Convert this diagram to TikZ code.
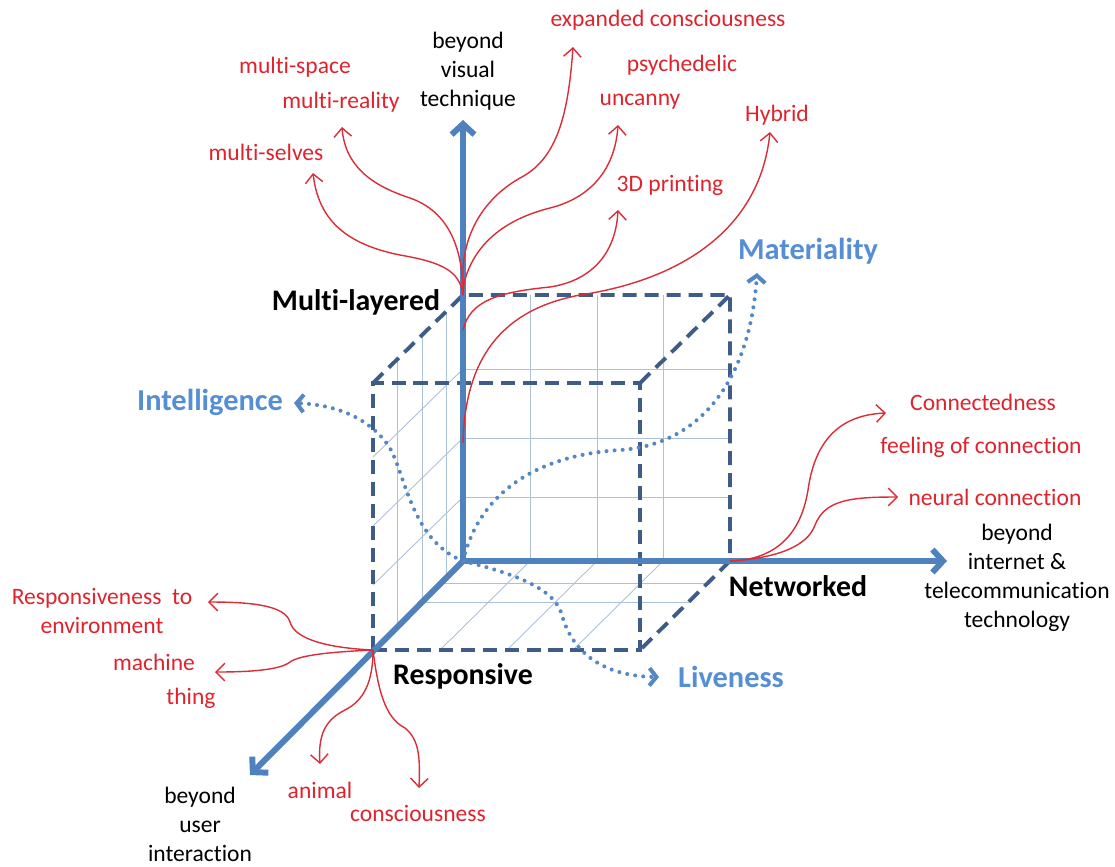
\documentclass[tikz,border=0pt]{standalone}
\usepackage{fontspec}
\setmainfont{Carlito}[Ligatures=NoCommon]
\usetikzlibrary{arrows.meta}
\definecolor{axisblue}{RGB}{79,129,189}
\definecolor{dashblue}{RGB}{62,92,135}
\definecolor{gridblue}{RGB}{172,192,218}
\definecolor{dotblue}{RGB}{84,135,195}
\definecolor{lblblue}{RGB}{85,142,213}
\definecolor{redline}{RGB}{218,45,55}
\definecolor{redtext}{RGB}{222,35,45}

\begin{document}
\begin{tikzpicture}[x=0.02cm,y=-0.02cm,
  axis/.style={axisblue,line width=3.4pt,-{Straight Barb[length=6pt,width=13pt]}},
  cubeedge/.style={dashblue,line width=2.2pt,dash pattern=on 8pt off 4.5pt},
  gridline/.style={gridblue,line width=0.5pt},
  dotpath/.style={dotblue,line width=2.3pt,line cap=round,dash pattern=on 0pt off 4.6pt,
    -{Straight Barb[length=4pt,width=10pt]}},
  twig/.style={redline,line width=0.8pt,-{Straight Barb[length=5pt,width=10pt]}},
  redlbl/.style={text=redtext,inner sep=0pt,align=center,font=\fontsize{13.4}{16}\selectfont},
  blklbl/.style={text=black,inner sep=0pt,align=center,font=\fontsize{13.4}{16.5}\selectfont},
  cornerlbl/.style={text=black,inner sep=0pt,font=\fontsize{17}{20}\selectfont\bfseries},
  bluelbl/.style={text=lblblue,inner sep=0pt,font=\fontsize{17.3}{20}\selectfont\bfseries}]
\useasboundingbox (0,0) rectangle (1115,866);

% cube corners
\coordinate (o) at (463,561);
\coordinate (ml) at (463,295);
\coordinate (btr) at (730,295);
\coordinate (nw) at (730,561);
\coordinate (ftl) at (373,383);
\coordinate (ftr) at (640,383);
\coordinate (fbr) at (640,650);
\coordinate (rs) at (373,650);

% axis ends
\coordinate (ztip) at (463,120);
\coordinate (xtip) at (947,561);
\coordinate (ytip) at (250,775);

% grid on back wall, side wall and floor
\foreach \x in {530,597,663}
  \draw[gridline] (\x,295) -- (\x,561);
\foreach \y in {369,438,497}
  \draw[gridline] (463,\y) -- (730,\y);
\foreach \y in {369,438,497}
  \draw[gridline] (373,{\y+88}) -- (463,\y);
\foreach \x in {397,422,446}
  \draw[gridline] (\x,{295+(463-\x)*0.98}) -- (\x,{561+(463-\x)*0.99});
\foreach \x in {530,597,663}
  \draw[gridline] (\x,561) -- (\x-90,650);
\foreach \y in {583,602}
  \draw[gridline] ({463-(\y-561)*1.01},\y) -- ({730-(\y-561)*1.01},\y);

% dashed cube
\draw[cubeedge] (rs) -- (ftl) -- (ftr) -- (fbr) -- cycle;
\draw[cubeedge] (ftl) -- (ml) -- (btr) -- (nw) -- (fbr);
\draw[cubeedge] (ftr) -- (btr);

% axes
\draw[axis] (o) -- (ztip);
\draw[axis] (o) -- (xtip);
\draw[axis] (o) -- (ytip);

% dotted paths
\node[bluelbl] (intel) at (210,402) {Intelligence};
\node[bluelbl] (mater) at (808,251) {Materiality};
\node[bluelbl] (live) at (731,677) {Liveness};
\coordinate (intel-tip) at (294,403);
\coordinate (mater-tip) at (757,273);
\coordinate (live-tip) at (659,677);
\draw[dotpath] (o) .. controls (410,540) and (405,470) .. (388,445)
  .. controls (370,420) and (340,405) .. (intel-tip);
\draw[dotpath] (o) .. controls (480,490) and (540,455) .. (620,450)
  .. controls (700,445) and (750,380) .. (mater-tip);
\draw[dotpath] (o) .. controls (520,575) and (555,590) .. (562,615)
  .. controls (570,645) and (595,676) .. (live-tip);

% corner labels
\node[cornerlbl] (layered) at (356,302) {Multi-layered};
\node[cornerlbl] (networked) at (798,586) {Networked};
\node[cornerlbl] (responsive) at (463,676) {Responsive};

% axis labels
\node[blklbl] (visual) at (468,71) {beyond\\visual\\technique};
\node[blklbl] (internet) at (1017,578) {beyond\\internet \&\\telecommunication\\technology};
\node[blklbl] (user) at (200,824) {beyond\\user\\interaction};

% upward branches
\node[redlbl] (space) at (295,67) {multi-space};
\node[redlbl] (reality) at (341,102) {multi-reality};
\node[redlbl] (selves) at (266,152) {multi-selves};
\node[redlbl] (expanded) at (668,20) {expanded consciousness};
\node[redlbl] (psyche) at (682,65) {psychedelic};
\node[redlbl] (uncanny) at (640,102) {uncanny};
\node[redlbl] (hybrid) at (777,115) {Hybrid};
\node[redlbl] (printing) at (670,185) {3D printing};
\coordinate (selves-tip) at (313,173);
\coordinate (reality-tip) at (342,127);
\coordinate (expanded-tip) at (573,47);
\coordinate (uncanny-tip) at (618,125);
\coordinate (printing-tip) at (618,210);
\coordinate (hybrid-tip) at (770,132);
\draw[twig] (ml) .. controls (460,270) and (440,262) .. (400,255)
  .. controls (340,243) and (318,215) .. (selves-tip);
\draw[twig] (ml) .. controls (463,250) and (450,212) .. (410,198)
  .. controls (370,185) and (345,165) .. (reality-tip);
\draw[twig] (ml) -- (463,268) .. controls (466,225) and (490,195) .. (520,178)
  .. controls (555,160) and (568,120) .. (expanded-tip);
\draw[twig] (ml) -- (464,283) .. controls (475,240) and (510,218) .. (550,208)
  .. controls (590,198) and (615,170) .. (uncanny-tip);
\draw[twig] (463,330) .. controls (470,300) and (500,292) .. (550,287)
  .. controls (595,280) and (616,250) .. (printing-tip);
\draw[twig] (463,443) .. controls (465,360) and (500,310) .. (580,295)
  .. controls (680,280) and (760,230) .. (hybrid-tip);

% branches from the networked corner
\node[redlbl] (connected) at (983,402) {Connectedness};
\node[redlbl] (feeling) at (981,447) {feeling of connection};
\node[redlbl] (neural) at (995,497) {neural connection};
\coordinate (connected-tip) at (886,413);
\coordinate (neural-tip) at (898,497);
\draw[twig] (nw) .. controls (770,560) and (800,540) .. (808,490)
  .. controls (815,440) and (840,415) .. (connected-tip);
\draw[twig] (nw) .. controls (780,558) and (808,545) .. (815,525)
  .. controls (825,500) and (850,497) .. (neural-tip);

% branches from the responsive corner
\node[redlbl] (environ) at (102,611) {Responsiveness\ \ to\\environment};
\node[redlbl] (machine) at (154,662) {machine};
\node[redlbl] (thing) at (191,698) {thing};
\node[redlbl] (animal) at (320,790) {animal};
\node[redlbl] (conscious) at (418,813) {consciousness};
\coordinate (environ-tip) at (208,602);
\coordinate (machine-tip) at (215,672);
\coordinate (animal-tip) at (320,764);
\coordinate (conscious-tip) at (419,788);
\draw[twig] (rs) .. controls (330,648) and (295,640) .. (290,622)
  .. controls (285,605) and (250,602) .. (environ-tip);
\draw[twig] (rs) .. controls (330,652) and (300,655) .. (290,662)
  .. controls (280,670) and (250,672) .. (machine-tip);
\draw[twig] (rs) .. controls (373,680) and (365,700) .. (345,710)
  .. controls (325,720) and (318,735) .. (animal-tip);
\draw[twig] (rs) .. controls (378,690) and (385,718) .. (405,728)
  .. controls (420,740) and (420,760) .. (conscious-tip);
\end{tikzpicture}
\end{document}
